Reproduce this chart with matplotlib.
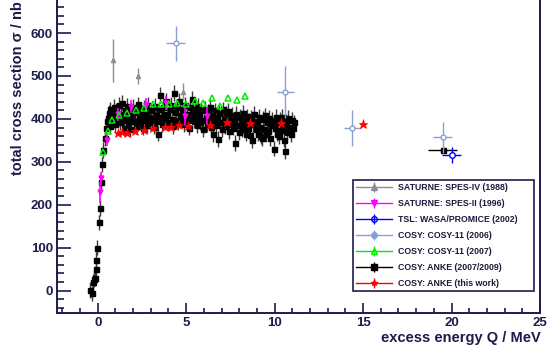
import matplotlib
matplotlib.use('Agg')
import matplotlib.pyplot as plt
from matplotlib.lines import Line2D
from matplotlib.ticker import MultipleLocator

plt.rcParams['font.family'] = ['Liberation Sans', 'DejaVu Sans']
plt.rcParams['font.weight'] = 'bold'

navy = '#1c1c4c'

# SATURNE SPES-IV (1988)
spes4_q = [0.85, 2.3, 4.8]
spes4_sigma = [537, 500, 463]
spes4_err = [50, 18, 20]

# SATURNE SPES-II (1996)
spes2_q = [0.15, 0.2, 0.55, 1.13, 1.86, 2.75, 3.85, 4.93, 6.16]
spes2_sigma = [229, 262, 351, 411, 428, 432, 437, 407, 407]
spes2_err = [25, 15, 15, 15, 15, 16, 16, 22, 20]

# TSL WASA/PROMICE (2002)
wasa_q = [20.0]
wasa_sigma = [316]
wasa_dq = [0.55]
wasa_err = [18]

# COSY-11 (2006)
c11a_q = [4.4, 10.6, 14.4, 19.5]
c11a_sigma = [576, 463, 378, 357]
c11a_dq = [0.55, 0.48, 0.5, 0.55]
c11a_err = [40, 60, 42, 36]

# COSY-11 (2007)
c11b_q = [0.30, 0.58, 0.81, 1.21, 1.66, 2.15, 2.63, 3.10, 3.55, 4.04,
          4.50, 4.99, 5.48, 5.97, 6.45, 6.92, 7.39, 7.86, 8.33]
c11b_sigma = [322, 372, 397, 409, 414, 421, 425, 434, 434, 434,
              436, 434, 442, 438, 448, 430, 449, 444, 453]

# ANKE (2007/2009)
anke_q = [-0.41, -0.32, -0.27, -0.21, -0.13, -0.11, -0.07, -0.02, 0.06, 0.11,
          0.17, 0.24, 0.30, 0.40, 0.49, 0.64,
          0.55, 0.60, 0.68, 0.72, 0.78, 0.84, 0.90, 0.95, 1.00, 1.06,
          1.12, 1.18, 1.24, 1.30, 1.36, 1.42, 1.48, 1.54, 1.60, 1.66,
          1.72, 1.78, 1.84, 1.90, 1.96, 2.02, 2.08, 2.14, 2.20, 2.26,
          2.32, 2.38, 2.44, 2.50, 2.56, 2.62, 2.68, 2.74, 2.80, 2.86,
          2.92, 2.98, 3.04, 3.10, 3.16, 3.22, 3.28, 3.34, 3.40, 3.46,
          3.52, 3.58, 3.64, 3.70, 3.76, 3.82, 3.88, 3.94, 4.00, 4.06,
          4.12, 4.18, 4.24, 4.30, 4.36, 4.42, 4.48, 4.54, 4.60, 4.66,
          4.72, 4.78, 4.84, 4.90, 4.96, 5.02, 5.08, 5.14, 5.20, 5.26,
          5.32, 5.38, 5.44, 5.50, 5.56, 5.62, 5.68, 5.74, 5.80, 5.86,
          5.92, 5.98, 6.04, 6.10, 6.16, 6.22, 6.28, 6.34, 6.40, 6.46,
          6.52, 6.58, 6.64, 6.70, 6.76, 6.82, 6.88, 6.94, 7.00, 7.06,
          7.12, 7.18, 7.24, 7.30, 7.36, 7.42, 7.48, 7.54, 7.60, 7.66,
          7.72, 7.78, 7.84, 7.90, 7.96, 8.02, 8.08, 8.14, 8.20, 8.26,
          8.32, 8.38, 8.44, 8.50, 8.56, 8.62, 8.68, 8.74, 8.80, 8.86,
          8.92, 8.98, 9.04, 9.10, 9.16, 9.22, 9.28, 9.34, 9.40, 9.46,
          9.52, 9.58, 9.64, 9.70, 9.76, 9.82, 9.88, 9.94, 10.00, 10.06,
          10.12, 10.18, 10.24, 10.30, 10.36, 10.42, 10.48, 10.54, 10.60, 10.66,
          10.72, 10.78, 10.84, 10.90, 10.96, 11.02, 11.08]
anke_sigma = [2, -6, 21, 27, 30, 50, 71, 100, 159, 193,
              254, 294, 328, 355, 378, 414,
              395, 402, 384, 422, 410, 396, 428, 405, 388, 418,
              400, 432, 392, 412, 438, 405, 380, 420, 398, 430,
              390, 410, 376, 420, 404, 428, 396, 384, 416, 434,
              402, 392, 422, 408, 380, 426, 398, 412, 386, 432,
              405, 392, 420, 400, 382, 430, 410, 396, 366, 422,
              456, 405, 388, 428, 412, 396, 442, 408, 392, 422,
              432, 400, 384, 460, 416, 398, 428, 392, 442, 410,
              396, 422, 405, 388, 432, 412, 398, 380, 428, 408,
              446, 416, 396, 422, 405, 386, 430, 410, 392, 420,
              398, 376, 424, 405, 388, 416, 398, 428, 382, 410,
              365, 396, 420, 386, 405, 353, 414, 392, 376, 422,
              400, 384, 412, 392, 418, 372, 402, 388, 410, 380,
              398, 344, 412, 386, 370, 404, 392, 376, 414, 384,
              398, 366, 406, 380, 395, 362, 402, 351, 388, 412,
              376, 396, 366, 404, 382, 360, 355, 400, 376, 408,
              364, 394, 372, 402, 356, 386, 398, 331, 378, 404,
              366, 392, 360, 398, 374, 404, 382, 352, 325, 394,
              370, 402, 382, 364, 398, 378, 392]
anke_err = 18
anke_far_q = [19.5]
anke_far_sigma = [328]
anke_far_dq = [0.82]
anke_far_err = [6]

# ANKE (this work)
this_q = [1.15, 1.38, 1.63, 2.12, 2.61, 3.12, 3.80, 4.12, 4.57, 5.08,
          6.35, 7.33, 8.62, 10.37, 15.0]
this_sigma = [368, 369, 368, 371, 374, 380, 382, 382, 385, 384,
              386, 393, 390, 391, 388]

labels = ['SATURNE: SPES-IV (1988)', 'SATURNE: SPES-II (1996)',
          'TSL: WASA/PROMICE (2002)', 'COSY: COSY-11 (2006)',
          'COSY: COSY-11 (2007)', 'COSY: ANKE (2007/2009)',
          'COSY: ANKE (this work)']

c_spes4 = '#8c8c9c'
c_spes2 = '#ff00ff'
c_wasa = '#0000ff'
c_c11a = '#86a0d4'
c_c11b = '#00ee00'
c_anke = '#000000'
c_this = '#ff0000'

fig = plt.figure(figsize=(5.48, 3.5), dpi=100)
ax = fig.add_axes([57/548, 37/350, 483/548, 313/350])

ax.errorbar(anke_q, anke_sigma, yerr=anke_err, fmt='s', color=c_anke,
            ms=3.6, ecolor='#3a3a3a', elinewidth=1.0, capsize=0, zorder=2)
ax.errorbar(anke_far_q, anke_far_sigma, xerr=anke_far_dq, yerr=anke_far_err,
            fmt='s', color=c_anke, ms=3.6, elinewidth=1.0, capsize=0, zorder=2)
ax.errorbar(spes4_q, spes4_sigma, yerr=spes4_err, fmt='^', color=c_spes4,
            ms=3, elinewidth=1.0, capsize=0, zorder=3)
ax.errorbar(spes2_q, spes2_sigma, yerr=spes2_err, fmt='v', color=c_spes2,
            ms=3.5, elinewidth=1.2, capsize=0, zorder=3)
ax.plot(c11b_q, c11b_sigma, '^', color=c_c11b, mfc='none', mew=1.1, ms=5,
        zorder=4)
ax.plot(this_q, this_sigma, '*', color=c_this, ms=6.5, mew=0.5, zorder=5)
ax.errorbar(wasa_q, wasa_sigma, xerr=wasa_dq, yerr=wasa_err, fmt='o',
            color=c_wasa, mfc='white', ms=4, mew=1.0, elinewidth=1.0,
            capsize=0, zorder=4)
ax.errorbar(c11a_q, c11a_sigma, xerr=c11a_dq, yerr=c11a_err, fmt='o',
            color=c_c11a, mfc='white', ms=3.5, mew=1.0, elinewidth=1.0,
            capsize=0, zorder=4)

ax.set_xlim(-2.3, 25)
ax.set_ylim(-52, 677)

ax.xaxis.set_major_locator(MultipleLocator(5))
ax.xaxis.set_minor_locator(MultipleLocator(1))
ax.yaxis.set_major_locator(MultipleLocator(100))
ax.yaxis.set_minor_locator(MultipleLocator(20))
ax.tick_params(axis='both', which='both', direction='in', color=navy,
               labelcolor=navy, labelsize=9.5, width=1.2)
ax.tick_params(axis='x', which='major', length=7, pad=3)
ax.tick_params(axis='x', which='minor', length=3.5)
ax.tick_params(axis='y', which='major', length=10, pad=3)
ax.tick_params(axis='y', which='minor', length=5)
ax.tick_params(right=False, top=False)
for lab in ax.get_xticklabels() + ax.get_yticklabels():
    lab.set_fontweight('bold')
for side in ['left', 'bottom', 'right']:
    ax.spines[side].set_color(navy)
    ax.spines[side].set_linewidth(1.4)
ax.spines['top'].set_visible(False)

fig.text(541/548, 1 - 342/350, 'excess energy Q / MeV', ha='right',
         va='baseline', fontsize=10.5, color=navy, fontweight='bold')
fig.text(18/548, 1 - 1/350, 'total cross section \u03c3 / nb', rotation=90,
         ha='center', va='top', fontsize=10.5, color=navy,
         fontweight='bold')

colors = [c_spes4, c_spes2, c_wasa, c_c11a, c_c11b, c_anke, c_this]
markers = ['^', 'v', 'o', 'o', '^', 's', '*']
mfcs = [c_spes4, c_spes2, 'none', c_c11a, 'none', c_anke, c_this]
handles = []
for col, mk, fc in zip(colors, markers, mfcs):
    h1 = Line2D([], [], color=col, lw=1.0, marker=mk, mfc=fc, ms=4, mew=1.0)
    h2 = Line2D([], [], color=col, ls='none', marker='|', ms=7, mew=1.0)
    handles.append((h1, h2))

leg = ax.legend(handles, labels, loc='upper left',
                bbox_to_anchor=(352.7/548, 1 - 180/350, (534 - 352.7)/548, 0),
                bbox_transform=fig.transFigure, mode='expand',
                borderaxespad=0, fontsize=6.3, borderpad=0.35,
                labelspacing=0.8, handlelength=4.1, handletextpad=0.7,
                fancybox=False, framealpha=1, edgecolor=navy)
leg.get_frame().set_linewidth(1.2)
for t in leg.get_texts():
    t.set_color('#1a1a3a')
    t.set_fontweight('bold')

fig.savefig('out.png', dpi=100)
